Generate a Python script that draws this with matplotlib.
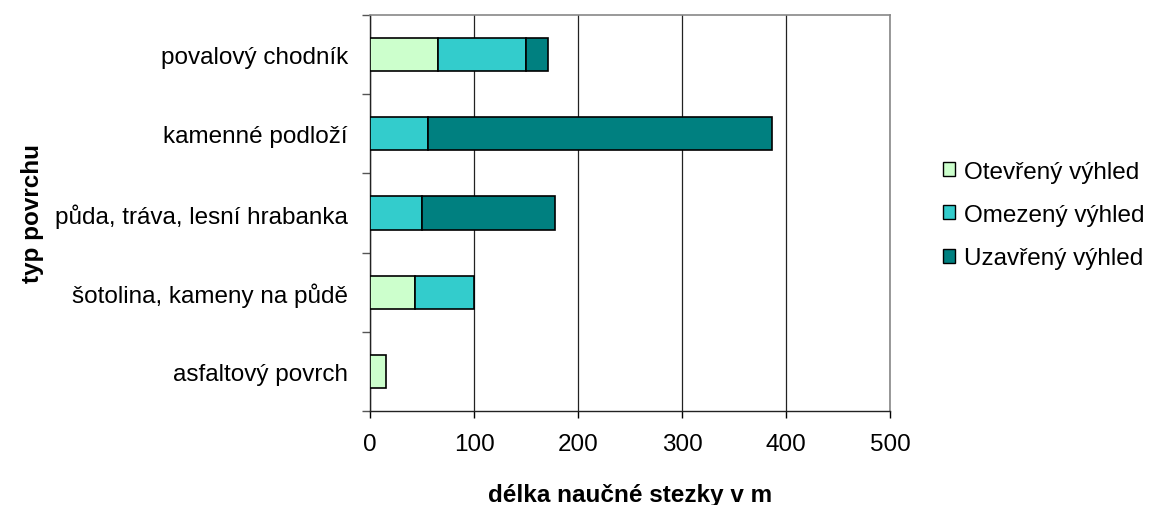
import matplotlib
matplotlib.use("Agg")
import matplotlib.pyplot as plt
from matplotlib.patches import Patch
import numpy as np

plt.rcParams['font.family'] = ['Liberation Sans', 'DejaVu Sans']

categories = ["asfaltový povrch", "šotolina, kameny na půdě",
              "půda, tráva, lesní hrabanka", "kamenné podloží", "povalový chodník"]
series_names = ["Otevřený výhled", "Omezený výhled", "Uzavřený výhled"]
otevreny = [15, 43, 0, 0, 65]
omezeny = [0, 57, 50, 56, 85]
uzavreny = [0, 0, 128, 331, 21]
colors = ["#CCFFCC", "#33CCCC", "#008080"]
x_ticks = [0, 100, 200, 300, 400, 500]

FS = 17.5

fig = plt.figure(figsize=(11.55, 5.06), dpi=100)
ax = fig.add_axes([370 / 1155, 1 - 412 / 506, 520 / 1155, 396 / 506])

y = np.arange(len(categories))
left = np.zeros(len(categories))
for vals, col, name in zip([otevreny, omezeny, uzavreny], colors, series_names):
    vals = np.array(vals, dtype=float)
    mask = vals > 0
    ax.barh(y[mask], vals[mask], left=left[mask], height=0.42, color=col,
            edgecolor="black", linewidth=1.2, zorder=3)
    left += vals

ax.set_xlim(0, 500)
ax.set_ylim(-0.5, len(categories) - 0.5)
ax.set_xticks(x_ticks)
ax.set_xticklabels([str(t) for t in x_ticks], fontsize=FS)
ax.set_yticks(y)
ax.set_yticklabels(categories, fontsize=FS)
ax.set_yticks(np.arange(-0.5, len(categories), 1), minor=True)
ax.tick_params(axis='y', which='major', length=0, pad=16)
ax.tick_params(axis='y', which='minor', length=6, width=1, color="#555555")
ax.tick_params(axis='x', which='major', length=5, width=1, pad=11)

ax.grid(axis='x', color="#222222", linewidth=0.9, zorder=0)
ax.set_axisbelow(True)
for s in ["top", "right"]:
    ax.spines[s].set_color("#888888")
    ax.spines[s].set_linewidth(1.2)
for s in ["left", "bottom"]:
    ax.spines[s].set_color("#222222")
    ax.spines[s].set_linewidth(1.0)

ax.set_xlabel("délka naučné stezky v m", fontsize=FS, fontweight="bold", labelpad=20)
ax.set_ylabel("typ povrchu", fontsize=FS, fontweight="bold", labelpad=8)

handles = [Patch(facecolor=c, edgecolor="black", linewidth=1.0) for c in colors]
fig.legend(handles, series_names, loc="center left", bbox_to_anchor=(921 / 1155, 1 - 216 / 506),
           frameon=False, fontsize=FS, handlelength=0.5, handleheight=0.5,
           handletextpad=0.35, labelspacing=0.88)

fig.savefig("out.png", dpi=100)
